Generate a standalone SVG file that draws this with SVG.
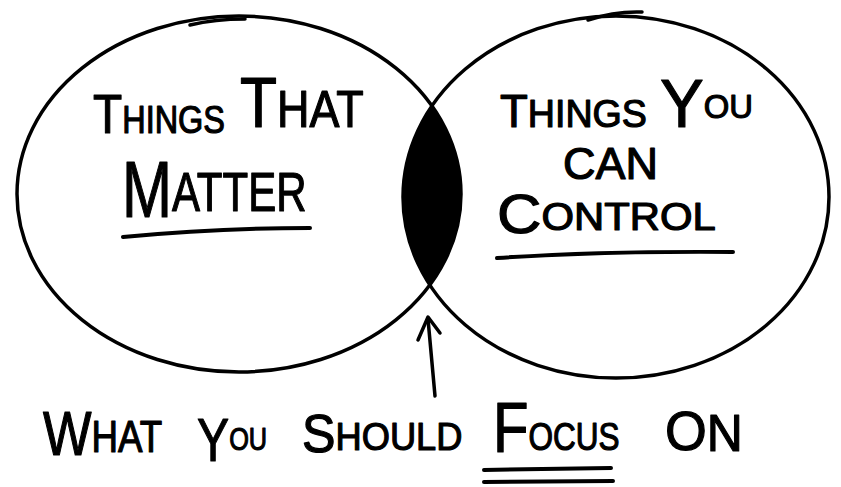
<svg xmlns="http://www.w3.org/2000/svg" width="841" height="487" viewBox="0 0 841 487">
  <style>
    .outline { fill: none; stroke: #000; stroke-width: 3.5; stroke-linecap: round; stroke-linejoin: round; }
    .mark { fill: none; stroke: #000; stroke-width: 4; stroke-linecap: round; stroke-linejoin: round; }
    .hand { font-family: "Liberation Sans", "DejaVu Sans", sans-serif; fill: #000; stroke: #000; stroke-width: 1.2; stroke-linejoin: round; }
  </style>
  <defs>
    <clipPath id="rightClip">
      <ellipse cx="616" cy="197" rx="213" ry="181"/>
    </clipPath>
  </defs>
  <rect width="841" height="487" fill="#fff"/>

  <g id="intersection">
    <ellipse cx="239" cy="194" rx="222" ry="178" fill="#000" clip-path="url(#rightClip)"/>
  </g>

  <g id="left-set">
    <ellipse class="outline" cx="239" cy="194" rx="222" ry="178"/>
    <path class="outline" d="M190,25 Q215,19 245,19"/>
    <text class="hand" transform="translate(93,133) scale(0.854,1)"><tspan font-size="56">T</tspan><tspan font-size="38">HINGS</tspan></text>
    <text class="hand" transform="translate(240,127) scale(0.865,1)"><tspan font-size="70">T</tspan><tspan font-size="52">HAT</tspan></text>
    <text class="hand" transform="translate(122,217) scale(0.75,1)"><tspan font-size="80">M</tspan><tspan font-size="56" dy="-6">ATTER</tspan></text>
    <path class="mark" d="M123,237 Q220,228 310,228"/>
  </g>

  <g id="right-set">
    <ellipse class="outline" cx="616" cy="197" rx="213" ry="181"/>
    <path class="outline" d="M588,20 Q615,11 642,12"/>
    <text class="hand" transform="translate(500,127) scale(0.99,1)"><tspan font-size="46">T</tspan><tspan font-size="38">HINGS</tspan></text>
    <text class="hand" transform="translate(660,127) scale(0.965,1)"><tspan font-size="68">Y</tspan><tspan font-size="34" dy="-9">OU</tspan></text>
    <text class="hand" x="563" y="179" font-size="45">CAN</text>
    <text class="hand" transform="translate(497,233) scale(1.1,1)"><tspan font-size="56">C</tspan><tspan font-size="38" dy="-3">ONTROL</tspan></text>
    <path class="mark" d="M497,258 Q600,251 733,252"/>
  </g>

  <g id="connectors">
    <path class="outline" d="M435,396 L428,319"/>
    <path class="outline" d="M418,340 L428,317 L440,333"/>
  </g>

  <g id="caption">
    <text class="hand" transform="translate(43,455) scale(0.816,1)"><tspan font-size="63">W</tspan><tspan font-size="45" dy="-3">HAT</tspan></text>
    <text class="hand" transform="translate(197,461) scale(0.79,1)"><tspan font-size="61">Y</tspan><tspan font-size="32" dy="-11">OU</tspan></text>
    <text class="hand" transform="translate(302,452) scale(0.93,1)"><tspan font-size="54">S</tspan><tspan font-size="39" dy="-2">HOULD</tspan></text>
    <text class="hand" transform="translate(493,452) scale(0.83,1)"><tspan font-size="70">F</tspan><tspan font-size="38" dy="-2">OCUS</tspan></text>
    <text class="hand" transform="translate(665,450) scale(0.96,1)"><tspan font-size="56">O</tspan><tspan font-size="52" dy="1">N</tspan></text>
    <path class="mark" d="M484,470 L611,468"/>
    <path class="mark" d="M484,482 L613,481"/>
  </g>
</svg>
